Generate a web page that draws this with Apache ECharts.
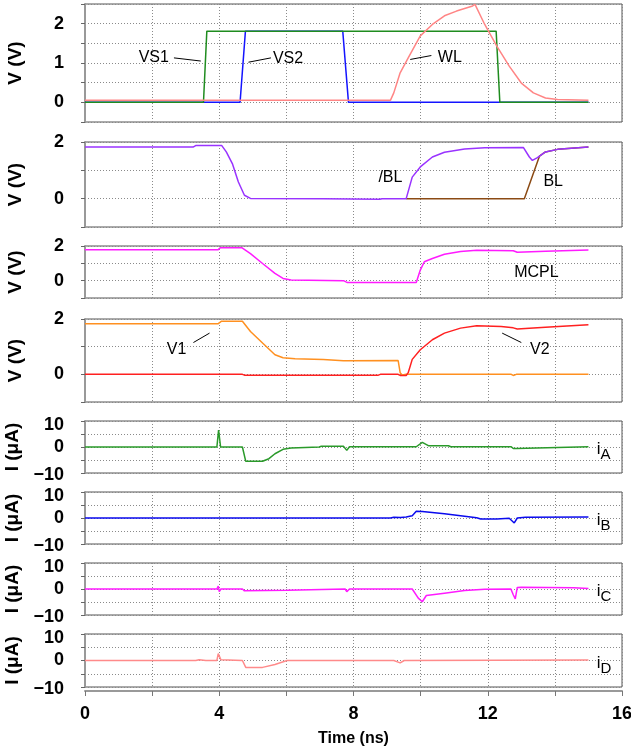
<!DOCTYPE html>
<html>
<head>
<meta charset="utf-8">
<script src="https://cdn.jsdelivr.net/npm/echarts@6/dist/echarts.min.js"></script>
<style>
  html, body { margin: 0; padding: 0; background: #fff; }
  #chart { width: 631px; height: 752px; }
</style>
</head>
<body>
<div id="chart"></div>
<script>
document.addEventListener("DOMContentLoaded", function() {

// time axis (ns)
var timeMin = 0;
var timeMax = 16;
var timeStep = 2;
var timeLabelStep = 4;

// panel 1 : VS1, VS2, WL  [t (ns), V]
var vs1 = [[0,0],[3.53,0],[3.63,1.81],[12.25,1.81],[12.36,0],[15,0]];
var vs2 = [[0,0],[4.5,0],[4.55,-0.03],[4.62,0],[4.78,1.81],[7.68,1.81],[7.85,0],[15,0]];
var wl = [[0,0.05],[9.1,0.05],[9.2,0.24],[9.39,0.75],[9.63,1.13],[9.99,1.69],[10.35,1.98],[10.71,2.2],
  [11.07,2.32],[11.55,2.45],[11.62,2.49],[11.91,1.98],[12.27,1.43],[12.64,0.92],[13.0,0.49],[13.36,0.24],
  [13.72,0.11],[14.08,0.07],[15,0.05]];

// panel 2 : /BL, BL
var blBar = [[0,1.82],[3.22,1.82],[3.31,1.88],[4.07,1.88],[4.21,1.65],[4.39,1.24],[4.57,0.59],[4.75,0.12],
  [4.93,0.01],[7.1,0],[7.15,-0.02],[8.78,-0.02],[8.85,0],[9.57,0],[9.75,0.76],[9.99,1.12],[10.35,1.47],
  [10.71,1.64],[11.31,1.75],[11.91,1.8],[13.06,1.81],[13.24,1.47],[13.33,1.35],[13.48,1.45],[13.72,1.65],
  [14.08,1.74],[15,1.82]];
var bl = [[9.57,0],[13.09,0],[13.54,1.5],[13.72,1.65],[14.08,1.74],[15,1.82]];

// panel 3 : MCPL
var mcpl = [[0,1.79],[3.97,1.79],[4.03,1.9],[4.67,1.9],[4.93,1.56],[5.29,0.99],[5.66,0.42],[5.9,0.13],
  [6.14,0.04],[7.7,0],[7.82,-0.11],[9.87,-0.1],[9.99,0.61],[10.11,1.09],[10.35,1.28],[10.71,1.52],
  [11.19,1.68],[11.67,1.75],[12.76,1.73],[12.88,1.64],[13.72,1.7],[15,1.77]];

// panel 4 : V1, V2
var v1 = [[0,1.83],[3.97,1.83],[4.07,1.92],[4.69,1.92],[4.93,1.55],[5.29,1.13],[5.66,0.71],[5.9,0.6],
  [6.26,0.56],[7.1,0.54],[7.7,0.49],[9.33,0.5],[9.39,0.06],[9.45,-0.02],[9.57,0],[12.7,0],[12.76,-0.04],
  [12.85,0],[15,0]];
var v2 = [[0,0],[4.69,0],[4.75,-0.03],[8.74,-0.03],[8.8,0],[9.33,0],[9.39,-0.04],[9.57,-0.04],[9.63,0.06],
  [9.75,0.54],[9.99,0.89],[10.35,1.25],[10.71,1.49],[11.19,1.67],[11.67,1.76],[12.4,1.73],[12.76,1.68],
  [12.88,1.64],[13.72,1.7],[15,1.79]];

// panels 5-8 : currents (uA)
var iA = [[0,0],[3.93,0],[3.98,6.5],[4.04,0],[4.69,0],[4.79,-5.5],[5.29,-5.5],[5.48,-4.5],[5.66,-2.6],
  [5.9,-0.9],[6.14,-0.4],[6.98,0],[7.04,0.3],[7.7,0.3],[7.8,-1.3],[7.88,0.1],[9.87,0.1],[10.05,1.8],
  [10.23,0.5],[10.83,0.5],[10.9,0.1],[12.7,0.1],[12.76,-0.6],[12.85,-0.6],[12.9,0.1],[15,0.1]];
var iB = [[0,0],[9.1,0],[9.2,0.3],[9.4,0.2],[9.57,0.4],[9.75,0.9],[9.87,2.6],[10.05,2.5],[10.71,1.6],
  [11.19,0.9],[11.67,0.1],[11.79,-0.4],[12.27,-0.4],[12.64,-0.1],[12.79,-1.9],[12.88,0],[13.12,0.3],[15,0.4]];
var iC = [[0,0],[3.93,0],[3.97,1.1],[4.0,-1],[4.05,0],[4.69,0],[4.75,-0.7],[6.02,-0.5],[6.05,0],[7.75,0],
  [7.8,-1],[7.88,0],[9.75,0],[9.93,-3.5],[10.05,-4.9],[10.17,-2.5],[10.71,-1.6],[11.31,-0.6],[11.91,-0.1],
  [12.69,0],[12.76,-2.2],[12.82,-3.8],[12.88,0.6],[13.0,0.7],[14.56,0.5],[15,0.2]];
var iD = [[0,0],[3.3,0],[3.4,0.3],[3.6,0],[3.93,0],[3.97,2.6],[4.05,0.3],[4.69,0],[4.79,-2.6],[5.29,-2.6],
  [5.66,-1.5],[6.02,0],[9.2,0],[9.39,-0.9],[9.51,0],[15,0.2]];

// y scales per panel
var yMins = [-0.5, -1, -1, -1, -10, -10, -10, -10];
var yMaxs = [2.5, 2, 2, 2, 10, 10, 10, 10];
var ySteps = [0.5, 1, 1, 1, 5, 5, 5, 5];
var yShown = [[0,1,2],[0,2],[0,2],[0,2],[-10,0,10],[-10,0,10],[-10,0,10],[-10,0,10]];
var yNames = ['V (V)','V (V)','V (V)','V (V)','I (\u03bcA)','I (\u03bcA)','I (\u03bcA)','I (\u03bcA)'];

// curve labels [text, t, value] and leader lines [t1, v1, t2, v2]
var tags = {
  vs1: [['VS1', 2.05, 1.13]], vs2: [['VS2', 6.05, 1.11]], wl: [['WL', 10.87, 1.13]],
  blBar: [['/BL', 9.1, 0.76]], bl: [['BL', 13.95, 0.62]], mcpl: [['MCPL', 13.45, 0.48]],
  v1: [['V1', 2.73, 0.89]], v2: [['V2', 13.55, 0.89]]
};
var leaders = {
  vs1: [[2.65, 1.13, 3.45, 1.05]], vs2: [[4.87, 1.02, 5.54, 1.13]], wl: [[9.69, 1.09, 10.32, 1.19]],
  v1: [[3.23, 1.15, 3.71, 1.49]], v2: [[12.43, 1.49, 13.0, 1.15]]
};
var subs = { iA: 'A', iB: 'B', iC: 'C', iD: 'D' };

// layout
var gridTops = [4, 142, 246, 319, 421, 492, 563, 634];
var gridHeights = [118, 85, 52, 83, 52, 52, 52, 53];

var font = 'Liberation Sans, Arial, sans-serif';
var dotted = { type: [1, 2], color: '#8a8a8a', width: 1 };

var chart = echarts.init(document.getElementById('chart'));

var grids = [], xAxes = [], yAxes = [], series = [];

for (var i = 0; i < 8; i++) {
  grids.push({
    left: 85, right: 9, top: gridTops[i], height: gridHeights[i],
    containLabel: false, outerBoundsMode: 'none',
    show: true, borderColor: '#555', borderWidth: 1, backgroundColor: 'transparent'
  });
  var last = i === 7;
  xAxes.push({
    gridIndex: i, type: 'value', min: timeMin, max: timeMax, interval: timeStep,
    offset: last ? 4 : 0,
    axisLine: { show: last, onZero: false, lineStyle: { color: '#999', width: 2 } },
    axisTick: { show: last, length: 5, lineStyle: { color: '#777' } },
    axisLabel: {
      show: last, margin: 14, color: '#000', fontFamily: font, fontWeight: 'bold', fontSize: 18,
      formatter: function (v) { return v % timeLabelStep === 0 ? String(v) : ''; }
    },
    splitLine: { show: true, lineStyle: dotted },
    name: last ? 'Time (ns)' : '', nameLocation: 'middle', nameGap: 40,
    nameTextStyle: { color: '#000', fontFamily: font, fontWeight: 'bold', fontSize: 16 }
  });
  (function (shown, isCur) {
    yAxes.push({
      gridIndex: i, type: 'value', min: yMins[i], max: yMaxs[i], interval: ySteps[i],
      name: yNames[i], nameLocation: 'middle', nameGap: 60,
      nameTextStyle: { color: '#000', fontFamily: font, fontWeight: 'bold', fontSize: 19 },
      axisLine: { show: true, onZero: false, lineStyle: { color: '#999', width: 2 } },
      axisTick: { show: true, length: 4, lineStyle: { color: '#666' } },
      axisLabel: {
        margin: 21, color: '#000', fontFamily: font, fontWeight: 'bold', fontSize: 18,
        formatter: function (v) {
          if (shown.indexOf(v) < 0) return '';
          var s = v < 0 ? '\u2212' + Math.abs(v) : String(v);
          if (isCur && v > 0) return '{hi|' + s + '}';
          if (isCur && v < 0) return '{lo|' + s + '}';
          return s;
        },
        rich: {
          hi: { fontFamily: font, fontWeight: 'bold', fontSize: 18, color: '#000', padding: [9, 0, 0, 0] },
          lo: { fontFamily: font, fontWeight: 'bold', fontSize: 18, color: '#000', padding: [4, 0, 0, 0] }
        }
      },
      splitLine: { show: true, lineStyle: dotted }
    });
  })(yShown[i], i >= 4);
}

function addLine(key, data, panel, color) {
  var s = {
    name: key, type: 'line', xAxisIndex: panel, yAxisIndex: panel, data: data,
    showSymbol: false, symbol: 'none', animation: false,
    lineStyle: { color: color, width: 1.5 }
  };
  if (tags[key]) {
    s.markPoint = {
      symbol: 'circle', symbolSize: 0, animation: false, silent: true,
      label: { show: true, position: 'inside', color: '#000', fontFamily: font, fontSize: 16 },
      data: tags[key].map(function (t) {
        return { coord: [t[1], t[2]], value: t[0], label: { formatter: t[0] } };
      })
    };
  }
  if (leaders[key]) {
    s.markLine = {
      symbol: ['none', 'none'], silent: true, animation: false,
      label: { show: false },
      lineStyle: { color: '#000', width: 1, type: 'solid' },
      data: leaders[key].map(function (l) {
        return [{ coord: [l[0], l[1]] }, { coord: [l[2], l[3]] }];
      })
    };
  }
  if (subs[key]) {
    s.markPoint = {
      symbol: 'circle', symbolSize: 0, animation: false, silent: true,
      label: {
        show: true, position: 'inside', align: 'left',
        formatter: '{i|i}{s|' + subs[key] + '}',
        rich: {
          i: { fontFamily: font, fontSize: 17, color: '#000', padding: [0, 0, 11, 0] },
          s: { fontFamily: font, fontSize: 15, color: '#000' }
        }
      },
      data: [{ coord: [15.25, -3] }]
    };
  }
  series.push(s);
}

addLine('vs2', vs2, 0, '#1414ff');
addLine('vs1', vs1, 0, '#1f8c1f');
addLine('wl', wl, 0, '#ff8585');
addLine('bl', bl, 1, '#8b4a14');
addLine('blBar', blBar, 1, '#9933ff');
addLine('mcpl', mcpl, 2, '#ff1aff');
addLine('v1', v1, 3, '#ff9020');
addLine('v2', v2, 3, '#ff2020');
addLine('iA', iA, 4, '#2a9a2a');
addLine('iB', iB, 5, '#0a0aee');
addLine('iC', iC, 6, '#ff1aff');
addLine('iD', iD, 7, '#ff8a8a');

var option = {
  animation: false,
  backgroundColor: '#fff',
  grid: grids,
  xAxis: xAxes,
  yAxis: yAxes,
  series: series
};

chart.setOption(option);

});
</script>
</body>
</html>
